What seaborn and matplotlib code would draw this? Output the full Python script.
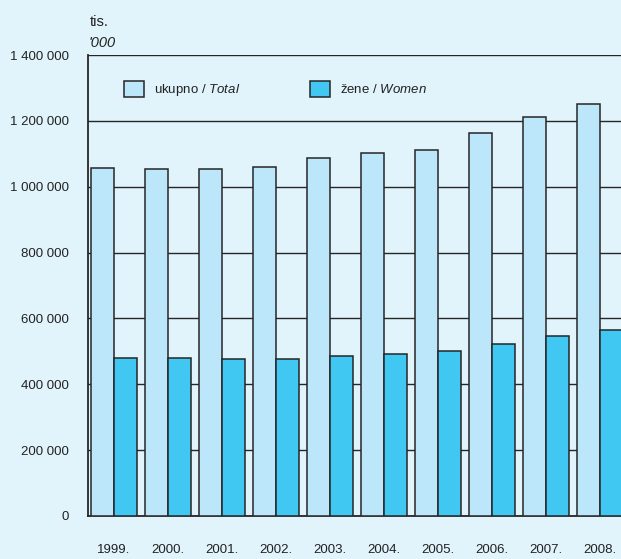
import matplotlib
matplotlib.use("Agg")
import matplotlib.pyplot as plt
import seaborn as sns
import pandas as pd

years = ["1999.", "2000.", "2001.", "2002.", "2003.", "2004.", "2005.", "2006.", "2007.", "2008."]
total = [1058000, 1053000, 1055000, 1060000, 1088000, 1103000, 1113000, 1162000, 1212000, 1252000]
women = [481000, 479000, 478000, 476000, 487000, 493000, 500000, 521000, 546000, 566000]
series_labels = ["ukupno / $\\it{Total}$", "žene / $\\it{Women}$"]
ytick_vals = [0, 200000, 400000, 600000, 800000, 1000000, 1200000, 1400000]
ytick_labels = ["0", "200 000", "400 000", "600 000", "800 000", "1 000 000", "1 200 000", "1 400 000"]

bg = "#e1f3fb"
colors = ["#bce6f9", "#40c8f2"]
dark = "#262626"

sns.set_theme(style="white")
fams = ["Liberation Sans", "DejaVu Sans"]
plt.rcParams["font.family"] = fams
plt.rcParams["mathtext.fontset"] = "custom"
plt.rcParams["mathtext.rm"] = "Liberation Sans"
plt.rcParams["mathtext.it"] = "Liberation Sans:italic"

df = pd.DataFrame({
    "year": years * 2,
    "value": total + women,
    "series": ["total"] * len(years) + ["women"] * len(years),
})

fig = plt.figure(figsize=(6.21, 5.59), dpi=100, facecolor=bg)
W, H = 621, 559
ax = fig.add_axes([88 / W, (H - 516) / H, (W - 88) / W, (516 - 55) / H])
ax.set_facecolor(bg)

sns.barplot(data=df, x="year", y="value", hue="series", palette=colors,
            width=0.85, edgecolor=dark, linewidth=1.1, ax=ax, zorder=3,
            saturation=1)

ax.set_xlim(-0.48, 9.39)
ax.set_ylim(0, 1400000)
ax.set_yticks(ytick_vals)
ax.set_yticklabels(ytick_labels)
ax.yaxis.grid(True, color=dark, linewidth=1.0, zorder=0)
ax.set_axisbelow(True)
ax.tick_params(axis="y", length=0, pad=14, labelsize=9.5, labelcolor="#222222")
ax.tick_params(axis="x", length=0, pad=20, labelsize=9.5, labelcolor="#222222")
ax.set_xlabel("")
ax.set_ylabel("")
for s in ["top", "right"]:
    ax.spines[s].set_visible(False)
for s in ["left", "bottom"]:
    ax.spines[s].set_color(dark)
    ax.spines[s].set_linewidth(1.3)

handles, _ = ax.get_legend_handles_labels()
ax.legend(handles=handles, labels=series_labels, ncol=2, frameon=False,
          loc="upper left", bbox_to_anchor=(124 / W, 1 - 81 / H),
          bbox_transform=fig.transFigure, borderaxespad=0, borderpad=0,
          handlelength=1.5, handleheight=1.5, handletextpad=0.75,
          columnspacing=5.3, fontsize=9.5, labelcolor="#222222")

fig.text(90 / W, 1 - 22 / H, "tis.", ha="left", va="center", fontsize=10.5, color="#222222")
fig.text(89 / W, 1 - 43 / H, "'000", ha="left", va="center", fontsize=10.5,
         style="italic", color="#222222")

fig.savefig("out.png", dpi=100, facecolor=bg)
